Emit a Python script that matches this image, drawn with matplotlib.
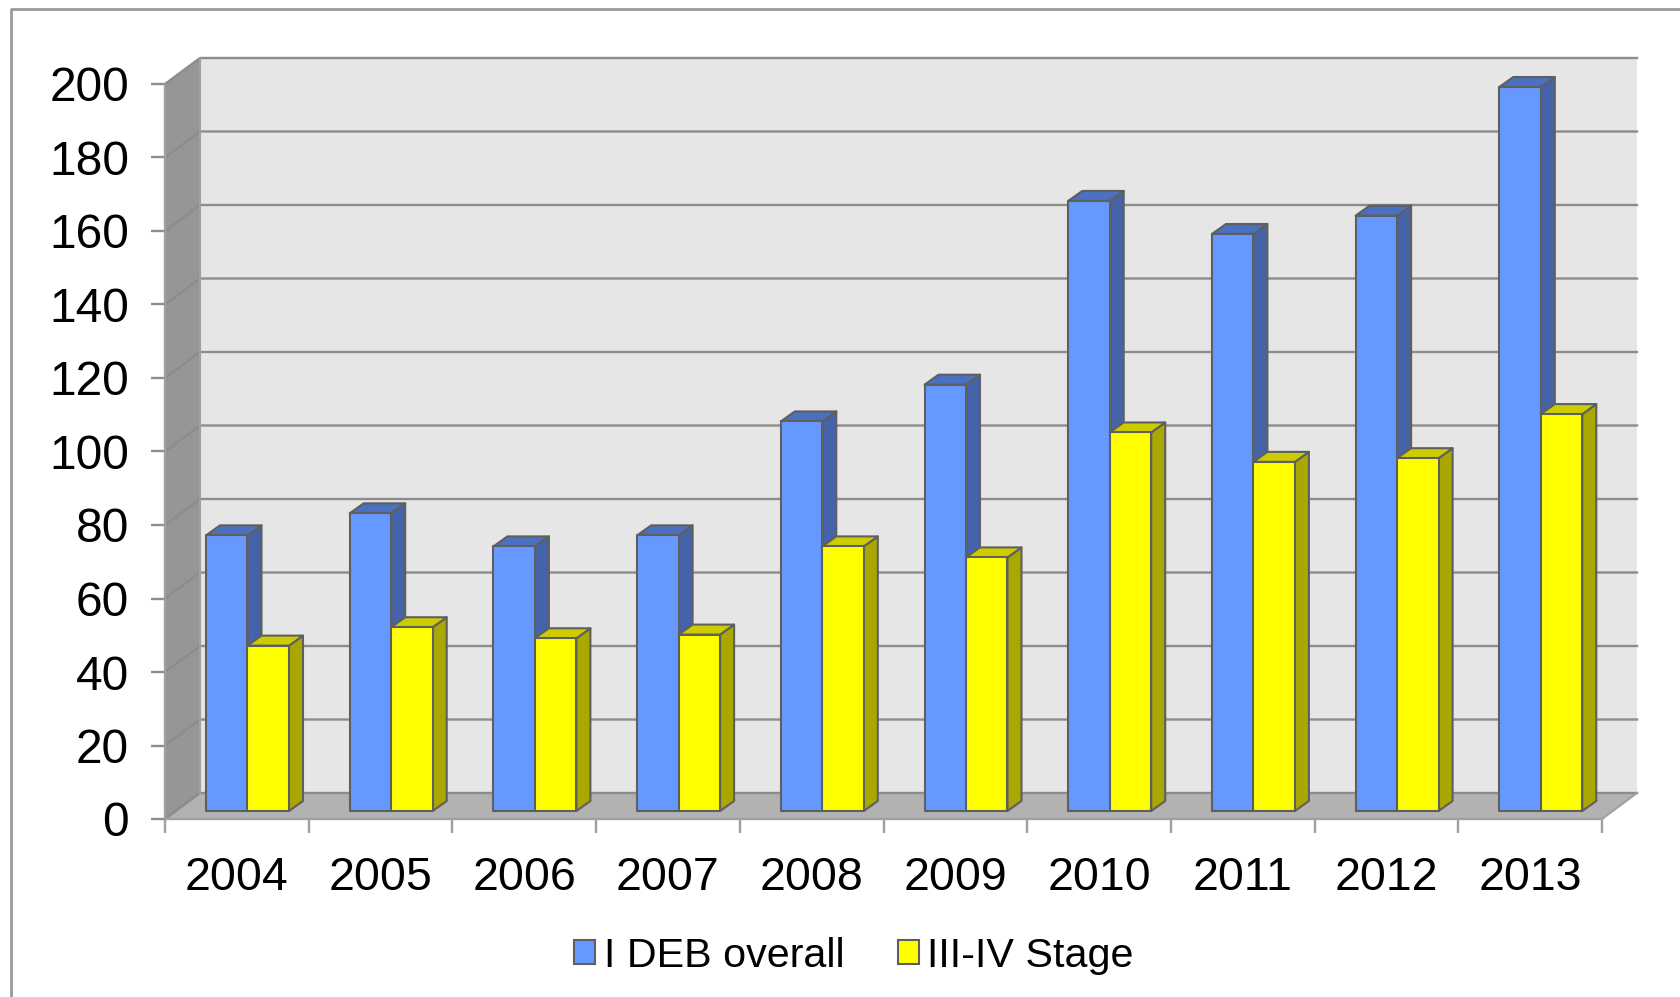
import matplotlib
matplotlib.use("Agg")
import matplotlib.pyplot as plt
from matplotlib.lines import Line2D
from matplotlib.patches import Patch, Polygon

plt.rcParams["font.family"] = ["Liberation Sans", "DejaVu Sans"]

years = [2004, 2005, 2006, 2007, 2008, 2009, 2010, 2011, 2012, 2013]
deb_overall = [75, 81, 72, 75, 106, 116, 166, 157, 162, 197]
stage_3_4 = [45, 50, 47, 48, 72, 69, 103, 95, 96, 108]
y_ticks = list(range(0, 201, 20))

W, H = 1681, 997
L, R, B, T = 165, 1602, 819, 84
x_px = (R - L) / len(years)
y_px = (B - T) / 200.0

# depth of the fake 3d box and of the bars, in data units
wall_dx = 35 / x_px
wall_dy = 26 / y_px
bar_dx = 14 / x_px
bar_dy = 10 / y_px
bar_start = 41 / x_px
bar_w = 41.5 / x_px
bar_lift = 8 / y_px

edge = "#5f5f5f"
grid = "#8c8c8c"


def poly(ax, pts, fc, ec=edge, lw=1.5, z=3):
    ax.add_patch(Polygon(pts, closed=True, facecolor=fc, edgecolor=ec, linewidth=lw,
                         joinstyle="round", clip_on=False, zorder=z))


def bar3d(ax, x, v, front, top, side, z):
    b = bar_lift
    t = bar_lift + v
    poly(ax, [(x + bar_w, b), (x + bar_w + bar_dx, b + bar_dy), (x + bar_w + bar_dx, t + bar_dy), (x + bar_w, t)], side, z=z)
    poly(ax, [(x, t), (x + bar_dx, t + bar_dy), (x + bar_w + bar_dx, t + bar_dy), (x + bar_w, t)], top, z=z)
    poly(ax, [(x, b), (x + bar_w, b), (x + bar_w, t), (x, t)], front, z=z)


fig = plt.figure(figsize=(W / 100, H / 100), dpi=100, facecolor="white")
ax = fig.add_axes([L / W, 1 - B / H, (R - L) / W, (B - T) / H])
ax.set_xlim(0, len(years))
ax.set_ylim(0, 200)
ax.patch.set_visible(False)

n = len(years)
# walls and floor
poly(ax, [(wall_dx, wall_dy), (n + wall_dx, wall_dy), (n + wall_dx, 200 + wall_dy), (wall_dx, 200 + wall_dy)],
     "#e6e6e6", ec="none", lw=0, z=1)
poly(ax, [(0, 0), (wall_dx, wall_dy), (wall_dx, 200 + wall_dy), (0, 200)], "#969696", ec="none", lw=0, z=1)
poly(ax, [(0, 0), (n, 0), (n + wall_dx, wall_dy), (wall_dx, wall_dy)], "#b2b2b2", ec="none", lw=0, z=1)

for v in y_ticks:
    ax.plot([0, wall_dx, n + wall_dx], [v, v + wall_dy, v + wall_dy], color=grid, lw=1.7,
            clip_on=False, zorder=2, solid_joinstyle="miter")
ax.plot([wall_dx, wall_dx], [wall_dy, 200 + wall_dy], color="#a0a0a0", lw=1.5, clip_on=False, zorder=2)
ax.plot([n, n + wall_dx], [0, wall_dy], color="#a0a0a0", lw=1.5, clip_on=False, zorder=2)

for i in range(n):
    x = i + bar_start
    bar3d(ax, x, deb_overall[i], "#6699ff", "#4b70c0", "#4463a8", 3)
    bar3d(ax, x + bar_w, stage_3_4[i], "#ffff00", "#cccc00", "#a8a800", 4)

for s in ["top", "right"]:
    ax.spines[s].set_visible(False)
for s in ["left", "bottom"]:
    ax.spines[s].set_color("#a0a0a0")
    ax.spines[s].set_linewidth(1.7)
    ax.spines[s].set_zorder(2)

ax.set_yticks(y_ticks)
ax.set_xticks(range(n + 1))
ax.set_xticklabels([])
ax.set_xticks([i + 0.5 for i in range(n)], minor=True)
ax.set_xticklabels([str(y) for y in years], minor=True)
ax.tick_params(axis="y", length=10, width=1.7, color="#8c8c8c", labelsize=34.5, pad=16)
ax.tick_params(axis="x", which="major", length=10, width=1.7, color="#a0a0a0")
ax.tick_params(axis="x", which="minor", length=0, labelsize=33.5, pad=27)

handles = [Patch(facecolor="#6699ff", edgecolor=edge, linewidth=1.5, label="I DEB overall"),
           Patch(facecolor="#ffff00", edgecolor=edge, linewidth=1.5, label="III-IV Stage")]
ax.legend(handles=handles, ncol=2, frameon=False, fontsize=29.7,
          loc="center", bbox_to_anchor=(854 / W, 1 - 956 / H), bbox_transform=fig.transFigure,
          handlelength=0.51, handleheight=0.51, handletextpad=0.2, columnspacing=1.3, borderpad=0)

# outer chart border, no bottom or right edge in the picture
fig.add_artist(Line2D([11 / W, 11 / W, 1], [0, 1 - 9 / H, 1 - 9 / H], color="#999999", lw=2))

fig.savefig("out.png", dpi=100)
